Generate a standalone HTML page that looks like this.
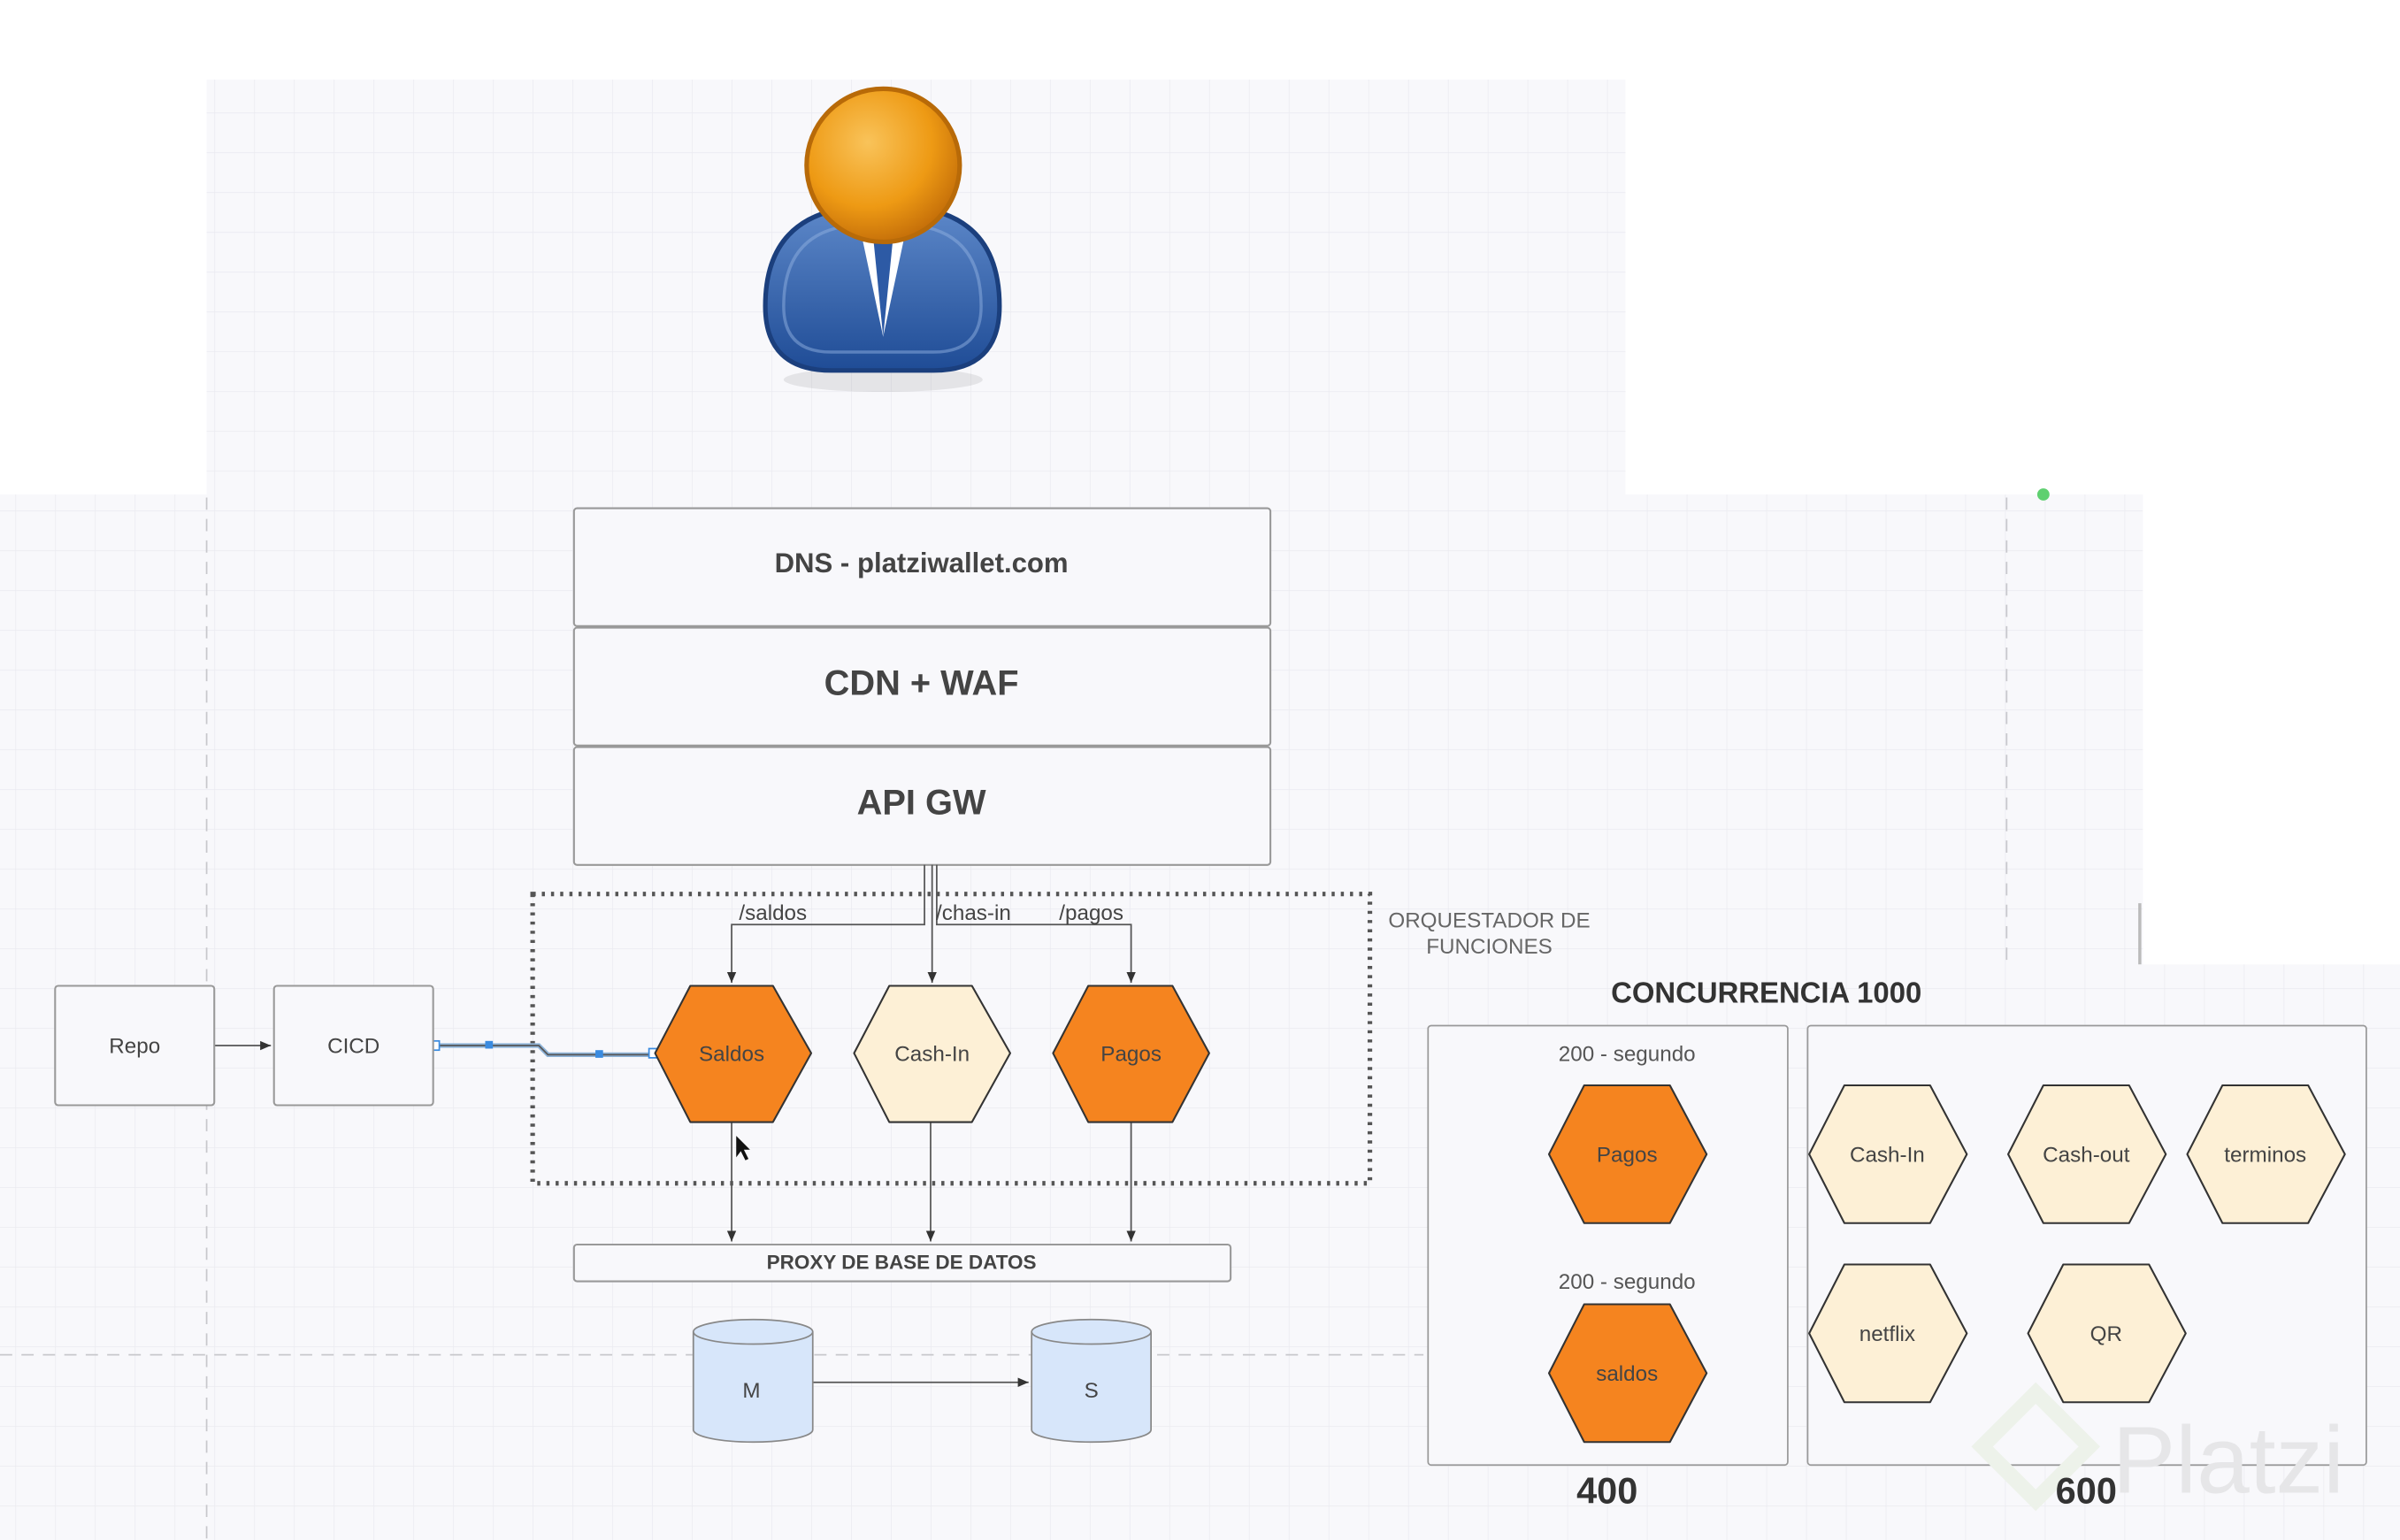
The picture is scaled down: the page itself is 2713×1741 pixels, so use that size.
<!DOCTYPE html>
<html><head><meta charset="utf-8"><style>
html,body{margin:0;padding:0;background:#fff;}
svg{display:block;}
text{font-family:"Liberation Sans",sans-serif;}
</style></head><body>
<svg width="2713" height="1741" viewBox="0 0 1568 1006" preserveAspectRatio="none" xmlns="http://www.w3.org/2000/svg">
<defs>
<pattern id="g" x="10" y="21.5" width="26" height="26" patternUnits="userSpaceOnUse">
<rect width="26" height="26" fill="#f8f8fb"/>
<path d="M0 0H26M0 0V26" stroke="#eaeaf0" stroke-width="0.8" fill="none"/>
</pattern>
<radialGradient id="hd" cx="0.4" cy="0.35" r="0.7"><stop offset="0" stop-color="#f9c35a"/><stop offset="0.6" stop-color="#ee9a14"/><stop offset="1" stop-color="#c06a08"/></radialGradient>
<linearGradient id="bd" x1="0" y1="0" x2="0" y2="1"><stop offset="0" stop-color="#5d88c9"/><stop offset="1" stop-color="#1f4c96"/></linearGradient>
<marker id="a" markerWidth="8" markerHeight="8" refX="7" refY="4" orient="auto" markerUnits="userSpaceOnUse"><path d="M0 1L7 4L0 7z" fill="#333"/></marker>
</defs>
<rect x="135" y="52" width="927" height="272" fill="url(#g)"/>
<rect x="0" y="323" width="1400" height="683" fill="url(#g)"/>
<rect x="920" y="630" width="648" height="376" fill="url(#g)"/>
<line x1="135" y1="325" x2="135" y2="1006" stroke="#c8c8cc" stroke-dasharray="8,6"/>
<line x1="1311" y1="325" x2="1311" y2="630" stroke="#c8c8cc" stroke-dasharray="8,6"/>
<line x1="0" y1="885" x2="930" y2="885" stroke="#c8c8cc" stroke-dasharray="8,6"/>
<line x1="1398" y1="590" x2="1398" y2="630" stroke="#bbb" stroke-width="2"/>
<!-- person -->
<ellipse cx="577" cy="248" rx="65" ry="8" fill="#000" opacity="0.08"/>
<path d="M500 200 Q500 140 560 135 L594 135 Q653 140 653 200 Q653 242 610 242 L543 242 Q500 242 500 200Z" fill="url(#bd)" stroke="#1b3f7d" stroke-width="3"/>
<path d="M512 200 Q512 150 560 147 L594 147 Q641 150 641 200 Q641 230 610 230 L543 230 Q512 230 512 200Z" fill="none" stroke="#8fb0e0" stroke-width="2" opacity="0.5"/>
<path d="M560 140 L577 220 L594 140Z" fill="#fff"/>
<path d="M570 150 L577 220 L584 150Z" fill="#2d5aa5"/>
<circle cx="577" cy="108" r="50" fill="url(#hd)" stroke="#b86a08" stroke-width="3"/>
<!-- stack -->
<g fill="#f8f8fb" stroke="#999" stroke-width="1.2">
<rect x="375" y="332" width="455" height="77" rx="2"/>
<rect x="375" y="410" width="455" height="77" rx="2"/>
<rect x="375" y="488" width="455" height="77" rx="2"/>
</g>
<text x="602" y="374" text-anchor="middle" font-size="18" font-weight="bold" fill="#444">DNS - platziwallet.com</text>
<text x="602" y="454" text-anchor="middle" font-size="23" font-weight="bold" fill="#444">CDN + WAF</text>
<text x="602" y="532" text-anchor="middle" font-size="23" font-weight="bold" fill="#444">API GW</text>
<rect x="348" y="584" width="547" height="189" fill="none" stroke="#555" stroke-width="3" stroke-dasharray="2,4"/>
<text x="973" y="606" text-anchor="middle" font-size="14" fill="#666">ORQUESTADOR DE</text>
<text x="973" y="623" text-anchor="middle" font-size="14" fill="#666">FUNCIONES</text>
<g stroke="#555" stroke-width="1" fill="none">
<path d="M604 565V604H478V642" marker-end="url(#a)"/>
<path d="M609 565V642" marker-end="url(#a)"/>
<path d="M612 565V604H739V642" marker-end="url(#a)"/>
<path d="M478 733V811" marker-end="url(#a)"/>
<path d="M608 733V811" marker-end="url(#a)"/>
<path d="M739 733V811" marker-end="url(#a)"/>
<path d="M140 683H177" marker-end="url(#a)"/>
<path d="M531 903H672" marker-end="url(#a)"/>
</g>
<text x="505" y="601" text-anchor="middle" font-size="14" fill="#444">/saldos</text>
<text x="636" y="601" text-anchor="middle" font-size="14" fill="#444">/chas-in</text>
<text x="713" y="601" text-anchor="middle" font-size="14" fill="#444">/pagos</text>
<path d="M284 683H352L358 689H424" stroke="#8fb4d8" stroke-width="3" fill="none"/>
<path d="M284 683H352L358 689H424" stroke="#555" stroke-width="1" fill="none"/>
<rect x="281" y="680" width="6" height="6" fill="#fff" stroke="#3a8be0"/>
<rect x="317" y="680" width="5" height="5" fill="#3a8be0"/>
<rect x="389" y="686" width="5" height="5" fill="#3a8be0"/>
<rect x="424" y="685" width="6" height="6" fill="#fff" stroke="#3a8be0"/>
<g fill="#f8f8fb" stroke="#999" stroke-width="1.2">
<rect x="36" y="644" width="104" height="78" rx="2"/>
<rect x="179" y="644" width="104" height="78" rx="2"/>
<rect x="375" y="813" width="429" height="24" rx="2"/>
</g>
<text x="88" y="688" text-anchor="middle" font-size="14" fill="#444">Repo</text>
<text x="231" y="688" text-anchor="middle" font-size="14" fill="#444">CICD</text>
<text x="589" y="829" text-anchor="middle" font-size="13" font-weight="bold" fill="#444">PROXY DE BASE DE DATOS</text>
<g stroke="#333" stroke-width="1.2" stroke-linejoin="round">
<polygon points="428,688 451,644 505,644 530,688 505,733 451,733" fill="#f5841f"/>
<polygon points="558,688 581,644 635,644 660,688 635,733 581,733" fill="#fdf0d6"/>
<polygon points="688,688 711,644 766,644 790,688 766,733 711,733" fill="#f5841f"/>
</g>
<text x="478" y="693" text-anchor="middle" font-size="14" fill="#444">Saldos</text>
<text x="609" y="693" text-anchor="middle" font-size="14" fill="#444">Cash-In</text>
<text x="739" y="693" text-anchor="middle" font-size="14" fill="#444">Pagos</text>
<path d="M481 742V756L484 752L487 758L489 757L486 751L490 751Z" fill="#111"/>
<g fill="#d7e6fa" stroke="#888" stroke-width="1">
<path d="M453 870V934A39 8 0 0 0 531 934V870"/>
<ellipse cx="492" cy="870" rx="39" ry="8"/>
<path d="M674 870V934A39 8 0 0 0 752 934V870"/>
<ellipse cx="713" cy="870" rx="39" ry="8"/>
</g>
<text x="491" y="913" text-anchor="middle" font-size="14" fill="#444">M</text>
<text x="713" y="913" text-anchor="middle" font-size="14" fill="#444">S</text>
<text x="1154" y="655" text-anchor="middle" font-size="19" font-weight="bold" fill="#333">CONCURRENCIA 1000</text>
<rect x="933" y="670" width="235" height="287" rx="2" fill="#f8f8fb" stroke="#999"/>
<rect x="1181" y="670" width="365" height="287" rx="2" fill="#f8f8fb" stroke="#999"/>
<text x="1380" y="975" font-size="62" fill="#e6e6e8">Platzi</text>
<path d="M1330 910L1365 945L1330 980L1295 945Z" fill="none" stroke="#edf2ea" stroke-width="10"/>
<g stroke="#333" stroke-width="1.2" stroke-linejoin="round">
<polygon points="1012,754 1035,709 1091,709 1115,754 1091,799 1035,799" fill="#f5841f"/>
<polygon points="1012,897 1035,852 1091,852 1115,897 1091,942 1035,942" fill="#f5841f"/>
<polygon points="1182,754 1205,709 1261,709 1285,754 1261,799 1205,799" fill="#fdf0d6"/>
<polygon points="1312,754 1335,709 1391,709 1415,754 1391,799 1335,799" fill="#fdf0d6"/>
<polygon points="1429,754 1452,709 1508,709 1532,754 1508,799 1452,799" fill="#fdf0d6"/>
<polygon points="1182,871 1205,826 1261,826 1285,871 1261,916 1205,916" fill="#fdf0d6"/>
<polygon points="1325,871 1348,826 1404,826 1428,871 1404,916 1348,916" fill="#fdf0d6"/>
</g>
<text x="1063" y="693" text-anchor="middle" font-size="14" fill="#555">200 - segundo</text>
<text x="1063" y="842" text-anchor="middle" font-size="14" fill="#555">200 - segundo</text>
<g font-size="14" fill="#444" text-anchor="middle">
<text x="1063" y="759">Pagos</text>
<text x="1063" y="902">saldos</text>
<text x="1233" y="759">Cash-In</text>
<text x="1363" y="759">Cash-out</text>
<text x="1480" y="759">terminos</text>
<text x="1233" y="876">netflix</text>
<text x="1376" y="876">QR</text>
</g>
<text x="1050" y="982" text-anchor="middle" font-size="24" font-weight="bold" fill="#333">400</text>
<text x="1363" y="982" text-anchor="middle" font-size="24" font-weight="bold" fill="#333">600</text>
<circle cx="1335" cy="323" r="4" fill="#5fd070"/>
</svg>
</body></html>
